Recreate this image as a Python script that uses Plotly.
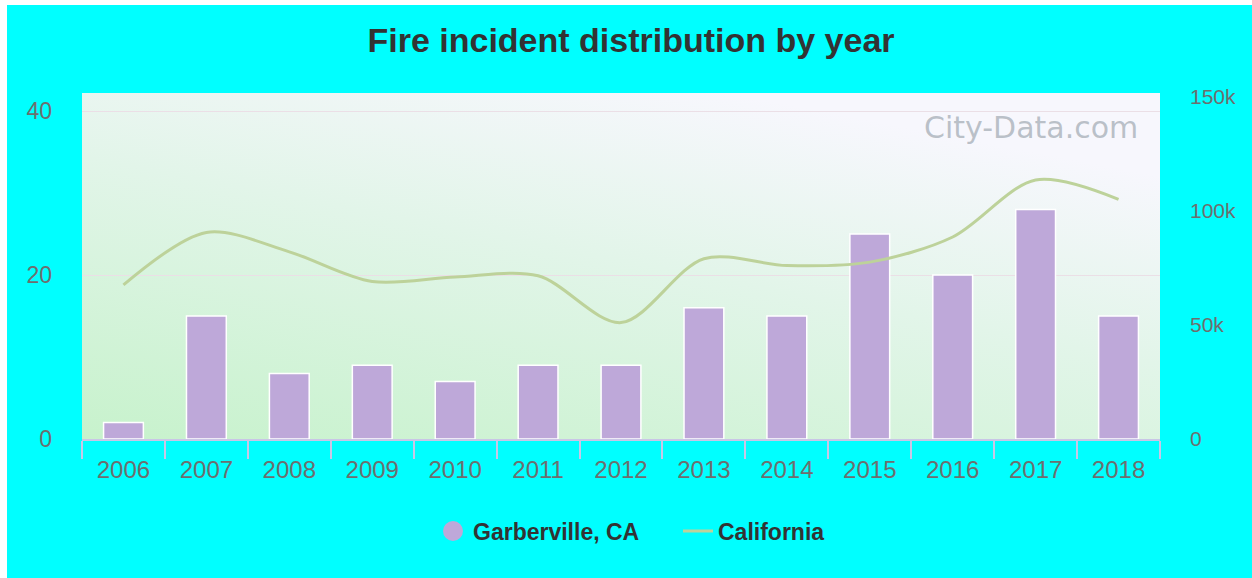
import base64
import plotly.graph_objects as go

# ---- data ----
years = ["2006", "2007", "2008", "2009", "2010", "2011", "2012",
         "2013", "2014", "2015", "2016", "2017", "2018"]
garberville = [2, 15, 8, 9, 7, 9, 9, 16, 15, 25, 20, 28, 15]
california = [67500, 90500, 82000, 69000, 71000, 71500, 51000,
              79000, 76000, 77500, 88500, 113500, 105000]
left_ticks = [0, 20, 40]
right_ticks = [0, 50000, 100000, 150000]
right_ticktext = ["0", "50k", "100k", "150k"]

BAR = "#BEA8D9"
LINE = "#BDD29A"
FONT = "Liberation Sans, Arial, sans-serif"

W, H = 1252, 578
ML, MR, MT, MB = 82, 92, 93, 139
PW, PH = W - ML - MR, H - MT - MB

svg = ('<svg xmlns="http://www.w3.org/2000/svg" width="200" height="100" '
       'viewBox="0 0 200 100" preserveAspectRatio="none">'
       '<defs><linearGradient id="g" x1="0" y1="1" x2="0.6" y2="0">'
       '<stop offset="0" stop-color="#C7F2CC"/>'
       '<stop offset="0.6" stop-color="#E2F5E9"/>'
       '<stop offset="1" stop-color="#F7F7FD"/>'
       '</linearGradient></defs>'
       '<rect width="200" height="100" fill="url(#g)"/></svg>')
bg_src = "data:image/svg+xml;base64," + base64.b64encode(svg.encode()).decode()

fig = go.Figure()
fig.add_trace(go.Bar(
    x=years, y=garberville, name="Garberville, CA", showlegend=False,
    marker=dict(color=BAR, line=dict(color="white", width=1.5)),
    yaxis="y", hoverinfo="x+y"))
fig.add_trace(go.Scatter(
    x=[None], y=[None], mode="markers", name="Garberville, CA",
    marker=dict(color=BAR, size=22, line=dict(color=BAR, width=4)),
    yaxis="y"))
fig.add_trace(go.Scatter(
    x=years, y=california, name="California", mode="lines",
    line=dict(color=LINE, width=3, shape="spline", smoothing=0.9),
    yaxis="y2"))

fig.update_layout(
    width=W, height=H,
    margin=dict(l=ML, r=MR, t=MT, b=MB, pad=0),
    paper_bgcolor="#00FFFF",
    plot_bgcolor="rgba(0,0,0,0)",
    font=dict(family=FONT, color="#6E6E6E"),
    bargap=0.52,
    title=dict(text="<b>Fire incident distribution by year</b>",
               x=631 / W, xanchor="center", y=1 - 40 / H, yanchor="middle",
               font=dict(size=34, color="#333333", family=FONT)),
    xaxis=dict(type="category", showgrid=False, zeroline=False,
               showline=True, linecolor="#C9C6E6", linewidth=1.5,
               ticks="outside", tickson="boundaries", ticklen=18,
               tickcolor="#C9C6E6", tickwidth=1.5, ticklabelstandoff=8,
               tickfont=dict(size=24, color="#6E6E6E")),
    yaxis=dict(range=[0, 42.2], tickvals=left_ticks, showgrid=True,
               gridcolor="#EBDFE6", gridwidth=1, zeroline=False,
               showline=False, ticks="", ticklabelstandoff=29,
               tickfont=dict(size=23, color="#6E6E6E")),
    yaxis2=dict(range=[0, 151600], overlaying="y", side="right",
                tickvals=right_ticks, ticktext=right_ticktext,
                showgrid=False, zeroline=False, showline=False, ticks="",
                ticklabelstandoff=29,
                tickfont=dict(size=21, color="#6E6E6E")),
    legend=dict(orientation="h", x=(433 - ML) / PW, xanchor="left",
                y=-(531 - (H - MB)) / PH, yanchor="middle",
                font=dict(size=23, color="#333333", family=FONT,
                          weight="bold"),
                bgcolor="rgba(0,0,0,0)", entrywidth=200,
                entrywidthmode="pixels"),
    images=[dict(source=bg_src, xref="paper", yref="paper", x=0, y=1,
                 sizex=1, sizey=1, xanchor="left", yanchor="top",
                 sizing="stretch", layer="below")],
    shapes=[
        dict(type="rect", xref="paper", yref="paper", layer="below",
             x0=-0.2, x1=(7 - ML) / PW, y0=-1, y1=2,
             fillcolor="white", line=dict(width=0)),
        dict(type="rect", xref="paper", yref="paper", layer="below",
             x0=-1, x1=2, y0=(H - MB - 5) / PH, y1=2,
             fillcolor="white", line=dict(width=0)),
    ],
    annotations=[dict(text="City-Data.com", xref="paper", yref="paper",
                      x=(922 - ML) / PW, y=(H - MB - 127) / PH,
                      xanchor="left", yanchor="middle", showarrow=False,
                      font=dict(size=30, color="rgba(145,155,165,0.6)",
                                family="DejaVu Sans, sans-serif"))],
)

fig.write_html("out.html")
